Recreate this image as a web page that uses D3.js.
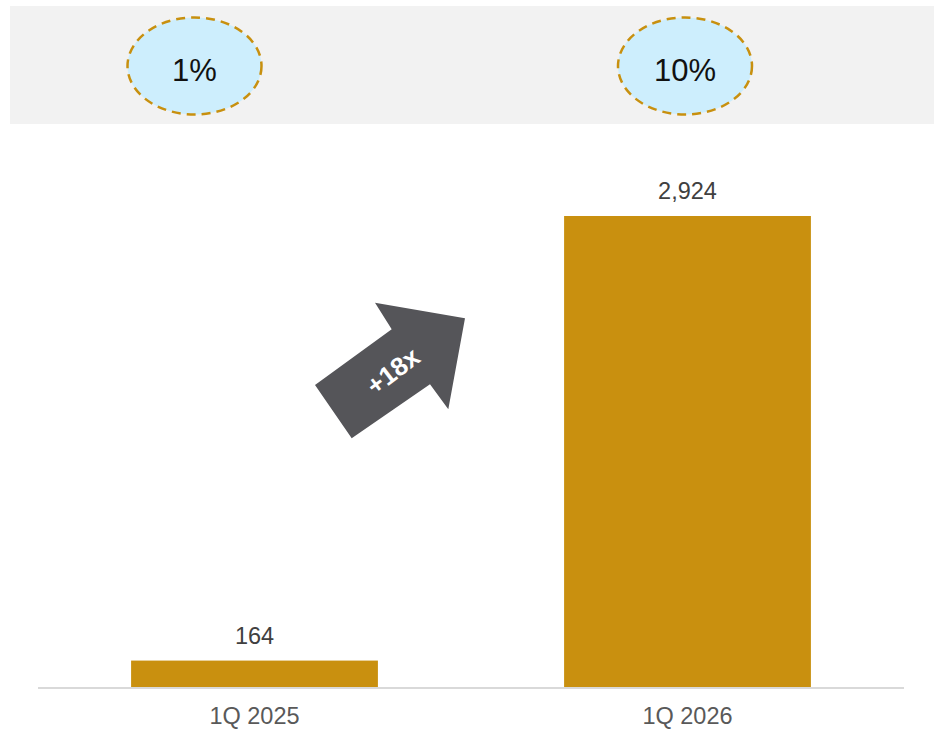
<!DOCTYPE html>
<html>
<head>
<meta charset="utf-8">
<script src="https://cdn.jsdelivr.net/npm/d3@7"></script>
<style>
  html, body { margin: 0; padding: 0; background: #ffffff; }
  svg { display: block; font-family: Arial, "Liberation Sans", Helvetica, sans-serif; }
</style>
</head>
<body>
<svg id="chart" width="934" height="729"></svg>
<script>
// Quarterly values
const categories = ["1Q 2025", "1Q 2026"];
const values = [164, 2924];
const valueLabels = ["164", "2,924"];
// Share shown in the header band above each quarter
const shareLabels = ["1%", "10%"];
const growthLabel = "+18x";

const svg = d3.select("#chart");
const W = 934, H = 729;
const baseY = 687, plotLeft = 38, plotRight = 904;

const x = d3.scaleBand()
  .domain(categories)
  .range([plotLeft, plotRight])
  .paddingInner(0.43)
  .paddingOuter(0.215);

const y = d3.scaleLinear()
  .domain([0, 2924])
  .range([baseY, 216]);

// Header band
svg.append("rect")
  .attr("x", 10).attr("y", 6)
  .attr("width", W - 10).attr("height", 118)
  .attr("fill", "#f2f2f2");

// Share bubbles
const bubbleX = [194.5, 685];
const bubbles = svg.append("g").selectAll("g")
  .data(shareLabels)
  .join("g")
  .attr("transform", (d, i) => `translate(${bubbleX[i]},66)`);
bubbles.append("ellipse")
  .attr("rx", 67).attr("ry", 48.5)
  .attr("fill", "#cdeefd")
  .attr("stroke", "#c8900f")
  .attr("stroke-width", 2.5)
  .attr("stroke-dasharray", "9,6");
bubbles.append("text")
  .attr("y", 15)
  .attr("text-anchor", "middle")
  .attr("font-size", 31)
  .attr("fill", "#111111")
  .text(d => d);

// Bars
svg.append("g").selectAll("rect")
  .data(values)
  .join("rect")
  .attr("x", (d, i) => x(categories[i]))
  .attr("width", x.bandwidth())
  .attr("y", d => y(d))
  .attr("height", d => baseY - y(d))
  .attr("fill", "#c9900f");

// Baseline
svg.append("line")
  .attr("x1", plotLeft).attr("x2", plotRight)
  .attr("y1", baseY + 1).attr("y2", baseY + 1)
  .attr("stroke", "#d9d9d9")
  .attr("stroke-width", 2);

// Value labels
svg.append("g").selectAll("text")
  .data(values)
  .join("text")
  .attr("x", (d, i) => x(categories[i]) + x.bandwidth() / 2)
  .attr("y", d => y(d) - 17)
  .attr("text-anchor", "middle")
  .attr("font-size", 23.5)
  .attr("fill", "#404040")
  .text((d, i) => valueLabels[i]);

// Category labels
const xAxis = d3.axisBottom(x).tickSize(0).tickPadding(20);
const gx = svg.append("g")
  .attr("transform", `translate(0,${baseY})`)
  .call(xAxis);
gx.select(".domain").remove();
gx.selectAll("text")
  .attr("font-size", 23.5)
  .attr("font-family", "Arial, 'Liberation Sans', sans-serif")
  .attr("fill", "#595959");

// Growth arrow
const arrowPts = [
  [315, 385], [391.7, 329.3], [375, 302.7], [465, 318.3],
  [448.3, 409.3], [430, 384.3], [351.7, 438.3]
];
svg.append("path")
  .attr("d", d3.line()(arrowPts) + "Z")
  .attr("fill", "#555559");
svg.append("text")
  .attr("transform", "translate(393,371) rotate(-37)")
  .attr("text-anchor", "middle")
  .attr("dy", "0.35em")
  .attr("font-size", 26)
  .attr("font-weight", "bold")
  .attr("fill", "#ffffff")
  .text(growthLabel);
</script>
</body>
</html>
